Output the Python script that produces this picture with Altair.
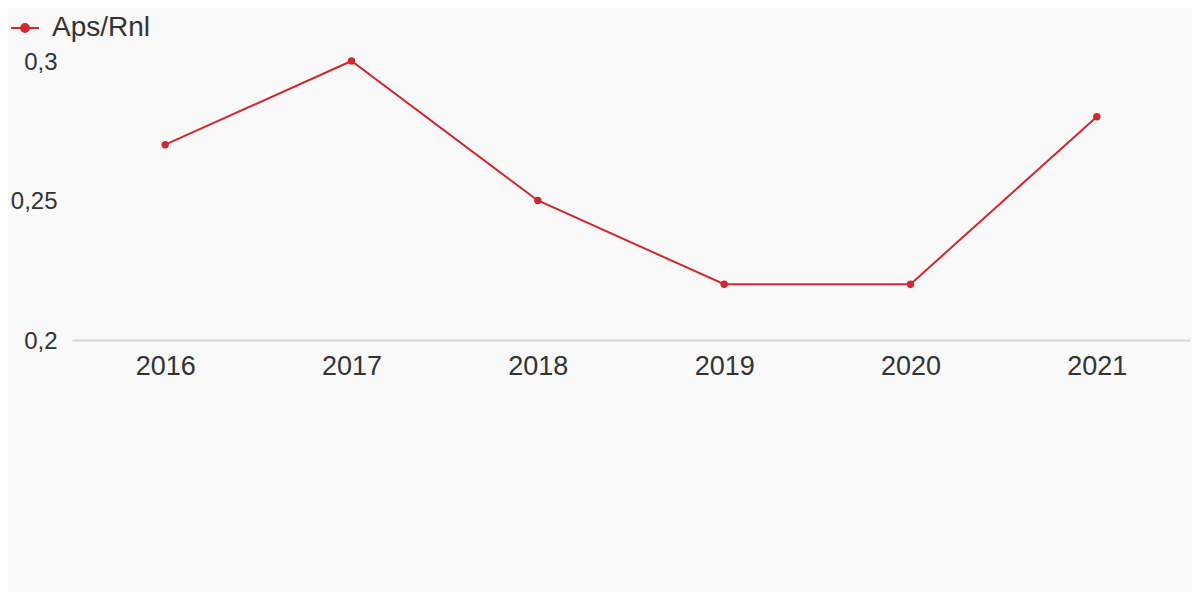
import altair as alt
import pandas as pd

years = ["2016", "2017", "2018", "2019", "2020", "2021"]
values = [0.27, 0.30, 0.25, 0.22, 0.22, 0.28]
series = ["Aps/Rnl"] * len(years)

df = pd.DataFrame({"year": years, "value": values, "series": series})

RED = "#d0282e"
FONT = "Liberation Sans"
TEXT = "#333333"

color = alt.Color(
    "series:N",
    scale=alt.Scale(range=[RED]),
    legend=alt.Legend(
        title=None,
        orient="none",
        legendX=-62,
        legendY=-48,
        symbolType="M-1,0H1M-0.28,0A0.28,0.28 0 1,1 0.28,0A0.28,0.28 0 1,1 -0.28,0Z",
        symbolSize=784,
        symbolStrokeWidth=2,
        symbolFillColor=RED,
        symbolStrokeColor=RED,
        labelFont=FONT,
        labelFontSize=28,
        labelColor=TEXT,
        labelOffset=12,
        padding=0,
    ),
)

x = alt.X(
    "year:O",
    sort=years,
    scale=alt.Scale(type="point", padding=0.5),
    axis=alt.Axis(
        title=None,
        labelAngle=0,
        labelFont=FONT,
        labelFontSize=27,
        labelColor=TEXT,
        labelPadding=13,
        ticks=False,
        domainColor="#d6d6d6",
        domainWidth=2,
        grid=False,
    ),
)

y = alt.Y(
    "value:Q",
    scale=alt.Scale(domain=[0.2, 0.3], nice=False, zero=False),
    axis=alt.Axis(
        title=None,
        values=[0.2, 0.25, 0.3],
        labelExpr="replace(format(datum.value, '.2~f'), '.', ',')",
        labelFont=FONT,
        labelFontSize=24,
        labelColor=TEXT,
        labelPadding=15,
        labelOffset=1,
        ticks=False,
        domain=False,
        grid=False,
    ),
)

chart = (
    alt.Chart(df)
    .mark_line(color=RED, strokeWidth=2, point=alt.OverlayMarkDef(filled=True, size=55, color=RED, opacity=1))
    .encode(x=x, y=y, color=color)
    .properties(
        width=1118,
        height=279,
        background="#f9f9f9",
        autosize=alt.AutoSizeParams(type="none"),
        padding={"left": 64, "top": 53, "right": 2, "bottom": 252},
    )
    .configure_view(stroke=None)
)

chart.save("out.html", embed_options={"renderer": "svg", "actions": False})
